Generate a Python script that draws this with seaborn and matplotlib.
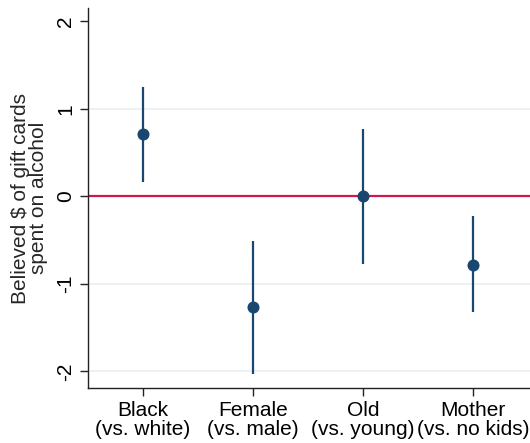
import matplotlib
matplotlib.use("Agg")
import matplotlib.pyplot as plt
import seaborn as sns
import pandas as pd

categories = ["Black\n(vs. white)", "Female\n(vs. male)", "Old\n(vs. young)", "Mother\n(vs. no kids)"]
estimates = [0.71, -1.27, 0.0, -0.78]
ci_low = [0.16, -2.03, -0.77, -1.32]
ci_high = [1.25, -0.51, 0.77, -0.23]
y_ticks = [-2, -1, 0, 1, 2]

df = pd.DataFrame({"pos": [1, 2, 3, 4], "est": estimates, "lo": ci_low, "hi": ci_high})

sns.set_theme(style="white")
plt.rcParams["font.family"] = ["Liberation Sans", "DejaVu Sans"]

fig = plt.figure(figsize=(5.3, 4.43), dpi=100)
ax = fig.add_axes([0.166, 0.124, 0.834, 0.858])

navy = "#1a476f"
for yv in [-2, -1, 1]:
    ax.axhline(yv, color="#eaf0f4", lw=1.3, zorder=0)
ax.axhline(0, color="#d0184a", lw=1.6, zorder=1)

ax.vlines(df["pos"], df["lo"], df["hi"], color=navy, lw=1.6, zorder=2)
sns.scatterplot(data=df, x="pos", y="est", ax=ax, color=navy, s=75,
                edgecolor=navy, linewidth=0, zorder=3, legend=False)

ax.set_xlim(0.5, 4.52)
ax.set_ylim(-2.19, 2.15)
ax.set_xticks([1, 2, 3, 4])
ax.set_xticklabels(categories, fontsize=15, linespacing=1.0)
ax.set_yticks(y_ticks)
ax.set_yticklabels([str(t) for t in y_ticks], fontsize=15, rotation=90, va="center")
ax.set_xlabel("")
ax.set_ylabel("Believed $ of gift cards\nspent on alcohol", fontsize=15, linespacing=0.95,
              labelpad=6)

for side in ["top", "right"]:
    ax.spines[side].set_visible(False)
for side in ["left", "bottom"]:
    ax.spines[side].set_color("#222222")
    ax.spines[side].set_linewidth(1.0)
ax.tick_params(axis="both", which="major", length=6, width=1, color="#222222",
               left=True, bottom=True, pad=3, labelcolor="#000000")

fig.savefig("out.png", dpi=100, facecolor="white")
